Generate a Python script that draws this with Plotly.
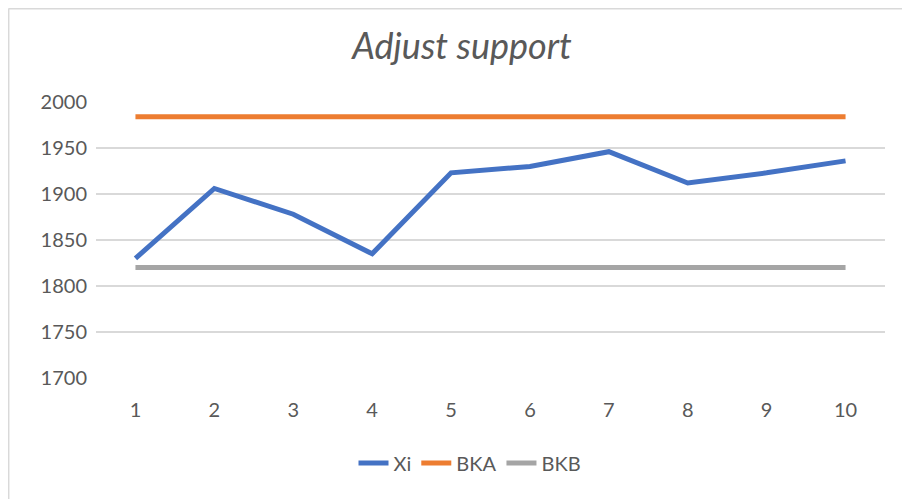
import plotly.graph_objects as go

categories = ["1", "2", "3", "4", "5", "6", "7", "8", "9", "10"]
xi = [1830, 1906, 1878, 1835, 1923, 1930, 1946, 1912, 1923, 1936]
bka = [1984] * 10
bkb = [1820] * 10
y_ticks = [1700, 1750, 1800, 1850, 1900, 1950, 2000]

# page has an 8px body margin, so the figure starts at (8, 8) on the page
OFF = 8
W, H = 910 - OFF, 499 - OFF
L, R, T, B = 96 - OFF, 25, 102 - OFF, 121
PW, PH = W - L - R, H - T - B


def px_x(p):
    return (p - OFF - L) / PW


def px_y(p):
    return (H - B - (p - OFF)) / PH


FONT = "Lato"
TXT = "#595959"

fig = go.Figure()
fig.add_trace(go.Scatter(x=categories, y=xi, name="Xi", mode="lines",
                         line=dict(color="#4472C4", width=5)))
fig.add_trace(go.Scatter(x=categories, y=bka, name="BKA", mode="lines",
                         line=dict(color="#ED7D31", width=5)))
fig.add_trace(go.Scatter(x=categories, y=bkb, name="BKB", mode="lines",
                         line=dict(color="#A5A5A5", width=5)))

border = "#D9D9D9"
shapes = [
    dict(type="line", xref="paper", yref="paper", x0=px_x(8.5), x1=px_x(910),
         y0=px_y(8.7), y1=px_y(8.7), line=dict(color=border, width=1.5)),
    dict(type="line", xref="paper", yref="paper", x0=px_x(8.7), x1=px_x(8.7),
         y0=px_y(8.5), y1=px_y(499), line=dict(color=border, width=1.5)),
]

fig.update_layout(
    width=W, height=H,
    margin=dict(l=L, r=R, t=T, b=B, pad=0, autoexpand=False),
    paper_bgcolor="white", plot_bgcolor="white",
    font=dict(family=FONT, color=TXT, size=21),
    title=dict(text="<i>Adjust support</i>", x=(462 - OFF) / W, xref="container",
               y=1 - (46 - OFF) / H, yref="container", xanchor="center",
               yanchor="middle", font=dict(family=FONT, size=36, color=TXT)),
    xaxis=dict(type="category", range=[-0.5, 9.5], showgrid=False, zeroline=False,
               showline=False, ticks="", tickfont=dict(size=20, color=TXT),
               ticklabelstandoff=18, fixedrange=True),
    yaxis=dict(range=[1700, 2000], tickvals=y_ticks, showgrid=True,
               gridcolor="#D9D9D9", gridwidth=1.5, zeroline=False, showline=False,
               ticks="", tickfont=dict(size=20, color=TXT), ticklabelstandoff=8),
    legend=dict(orientation="h", xref="container", yref="container",
                x=(470 - OFF) / W, y=1 - (463 - OFF) / H, xanchor="center",
                yanchor="middle", font=dict(size=20, color=TXT),
                bgcolor="rgba(0,0,0,0)", itemwidth=30, tracegroupgap=0),
    shapes=shapes,
    showlegend=True,
)

fig.write_html("out.html")
